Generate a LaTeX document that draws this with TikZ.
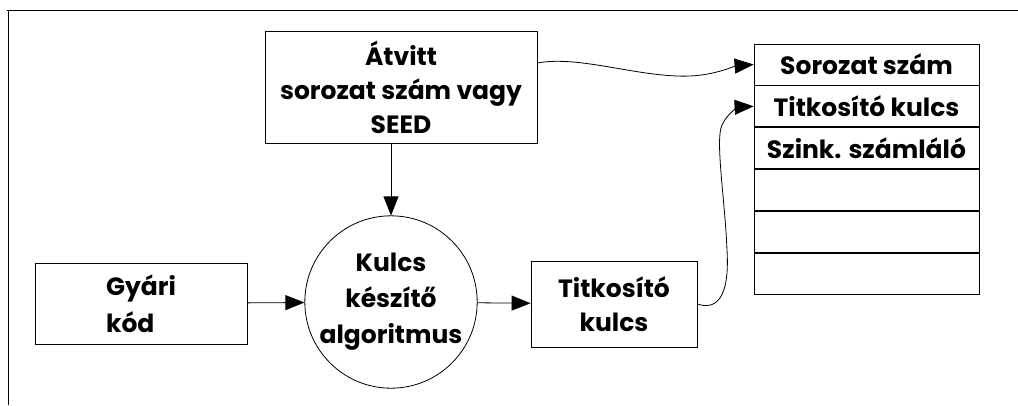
\documentclass[tikz,border=0pt]{standalone}
\usepackage{fontspec}
\setmainfont{Poppins}
\usetikzlibrary{arrows.meta,positioning}
\tikzset{
  box/.style={draw, line width=0.8pt, align=center, inner sep=0pt},
  cell/.style={draw, line width=0.8pt, minimum width=225pt, minimum height=41pt, inner sep=0pt},
  arr/.style={line width=0.8pt, -{Triangle[length=19pt,width=15pt]}}
}
\begin{document}
\begin{tikzpicture}[x=1pt,y=-1pt]
    \useasboundingbox (0,0) rectangle (1018,405);
    \fontsize{25}{34}\selectfont\bfseries

    % frame
    \draw[line width=1pt] (7,10) -- (1018,10);
    \draw[line width=1pt] (8,10) -- (8,405);

    \node[box, minimum width=272pt, minimum height=112pt] (seed) at (401,87)
        {Átvitt\\sorozat szám vagy\\SEED};
    \node[box, minimum width=212pt, minimum height=81pt, align=left] (gyari) at (141,303.5)
        {Gyári\\[3pt]kód};
    \node[draw, circle, line width=0.8pt, minimum size=162pt, inner sep=0pt, align=center] (kulcsalg) at (391,302)
        {Kulcs\\[2pt]készítő\\[2pt]algoritmus};
    \node[box, minimum width=166pt, minimum height=86pt] (titk) at (614,304)
        {Titkosító\\kulcs};

    % table
    \node[cell] (row1) at (866.5,64.5) {Sorozat szám};
    \node[cell, below=0pt of row1] (row2) {Titkosító kulcs};
    \node[cell, below=0pt of row2] (row3) {Szink. számláló};
    \node[cell, below=0pt of row3] (row4) {};
    \node[cell, below=0pt of row4] (row5) {};
    \node[cell, below=0pt of row5] (row6) {};

    \draw[arr] (kulcsalg.north |- seed.south) -- (kulcsalg.north);
    \draw[arr] (gyari) -- (kulcsalg);
    \draw[arr] (kulcsalg) -- (titk);

    \coordinate (seedout) at ([yshift=24pt]seed.east);
    \draw[arr] (seedout) .. controls (580,55) and (640,78) .. (690,76)
        .. controls (715,75) and (735,66) .. (row1.west);
    \draw[arr] (titk.east) .. controls (715,310) and (730,300) .. (727,250)
        .. controls (725,200) and (715,140) .. (722,125)
        .. controls (728,112) and (740,107) .. (row2.west);
\end{tikzpicture}
\end{document}
